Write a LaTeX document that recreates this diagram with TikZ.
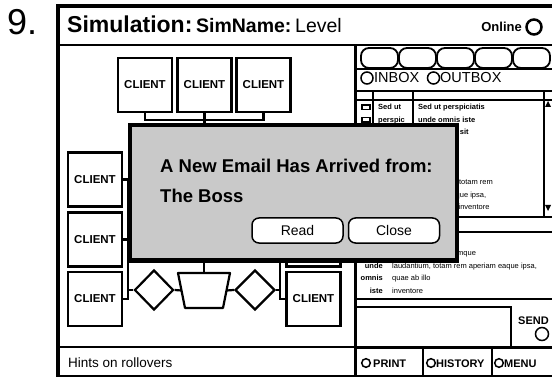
\documentclass[tikz,border=0pt]{standalone}
\usepackage{fontspec}
\setmainfont{Liberation Sans}
\usetikzlibrary{shapes.geometric,positioning}
\newcommand{\fsz}[1]{\fontsize{#1}{#1}\selectfont}
\definecolor{dlggray}{gray}{0.79}
\tikzset{
  client/.style={draw,line width=2.4,fill=white,minimum width=54,minimum height=54,
    inner sep=0,font=\fsz{11.5}\bfseries},
  link/.style={line width=2.2},
  rule/.style={line width=2},
  tabbox/.style={draw,line width=1.8,rounded corners=8,minimum width=37,minimum height=20,inner sep=0},
  radio/.style={draw,circle,line width=1.5,minimum size=12,inner sep=0},
  btn/.style={draw,line width=1.5,fill=white,rounded corners=7,minimum width=91,
    minimum height=25,inner sep=0,font=\fsz{14}},
  txt/.style={anchor=base west,inner sep=0},
  lst/.style={anchor=base west,inner sep=0,font=\fsz{7.5}\bfseries},
  lstr/.style={anchor=base west,inner sep=0,font=\fsz{7.5}},
  lbl/.style={anchor=base east,inner sep=0,font=\fsz{7.5}\bfseries},
}
\begin{document}
\begin{tikzpicture}[x=1pt,y=-1pt]
\useasboundingbox (0,0) rectangle (552,377);
\clip (0,0) rectangle (552,377);

% number and outer frame
\node[txt,font=\fsz{36}] (num) at (7,35) {9.};
\draw[line width=4] (58,6) rectangle (554,376.5);
\draw[line width=2.5] (58,45) -- (554,45);
\draw[line width=3] (355,45) -- (355,377);

% title bar
\node[txt] (title) at (67,33) {{\fsz{23}\bfseries Simulation:} {\fsz{19.5}\bfseries SimName:} {\fsz{19.5}Level}};
\node[anchor=base east,inner sep=0,font=\fsz{13}\bfseries] (online) at (522,32) {Online};
\node[radio,line width=2.5,minimum size=15] (onlinebtn) at (534,27) {};

% right panel: tabs and folders
\foreach \i in {0,...,4}
  \node[tabbox] (tab\i) at (379.5+38*\i,58) {};
\draw[rule] (355,69) -- (554,69);
\node[radio] (inboxbtn) at (367,78) {};
\node[txt,font=\fsz{14.5}] (inbox) at (374,83) {INBOX};
\node[radio] (outboxbtn) at (433.5,78) {};
\node[txt,font=\fsz{14.5}] (outbox) at (440,83) {OUTBOX};
\draw[line width=2.5] (355,91) -- (554,91);
\draw[line width=1.5] (355,100) -- (554,100);
\draw[line width=1.5] (373,91) -- (373,217) (413,91) -- (413,217) (544,91) -- (544,217);
\fill (545,107) -- (551,107) -- (548,101) -- cycle;
\fill (545,205) -- (551,205) -- (548,211) -- cycle;

% message list
\draw[line width=1.2] (362,105) rectangle (370,109.5) (362,117.5) rectangle (370,122);
\node[lst] (from1) at (378,109.7) {Sed ut};
\node[lst] (from2) at (378,122.2) {perspic};
\node[lst] (subj1) at (418,109.7) {Sed ut perspiciatis};
\node[lst] (subj2) at (418,122.2) {unde omnis iste};
\node[lst] (subj3) at (418,134.7) {natus error sit};
\node[lstr] (subj7) at (418,184.7) {laudantium, totam rem};
\node[lstr] (subj8) at (418,197.2) {aperiam eaque ipsa,};
\node[lstr] (subj9) at (418,209.7) {quae ab illo inventore};
\draw[line width=2.5] (355,217) -- (554,217);
\draw[line width=1.5] (355,232) -- (554,232);

% preview
\node[lbl] (pl1) at (383,255.7) {perspiciatis};
\node[lstr] (pv1) at (392,255.7) {accusantium doloremque};
\node[lbl] (pl2) at (383,268.2) {unde};
\node[lstr] (pv2) at (392,268.2) {laudantium, totam rem aperiam eaque ipsa,};
\node[lbl] (pl3) at (383,280.7) {omnis};
\node[lstr] (pv3) at (392,280.7) {quae ab illo};
\node[lbl] (pl4) at (383,293.2) {iste};
\node[lstr] (pv4) at (392,293.2) {inventore};
\draw[rule] (355,299) -- (554,299);

% compose and send
\draw[rule] (355,307) -- (511,307) -- (511,347);
\node[txt,font=\fsz{11}\bfseries] (send) at (518,324) {SEND};
\node[radio,minimum size=13] (sendbtn) at (542,334) {};

% bottom bars
\draw[rule] (58,347) -- (355,347);
\draw[line width=3] (355,347) -- (554,347);
\draw[rule] (423,347) -- (423,377) (492,347) -- (492,377);
\node[txt,font=\fsz{13.5}] (hints) at (68,367) {Hints on rollovers};
\node[radio,minimum size=8.6] (printbtn) at (366,363) {};
\node[txt,font=\fsz{11}\bfseries] (print) at (373,367) {PRINT};
\node[radio,minimum size=8.6] (historybtn) at (431,363) {};
\node[txt,font=\fsz{11}\bfseries] (history) at (436,367) {HISTORY};
\node[radio,minimum size=8.6] (menubtn) at (499,363) {};
\node[txt,font=\fsz{11}\bfseries] (menu) at (504,367) {MENU};

% clients
\node[client] (cT1) at (145,85) {CLIENT};
\node[client] (cT2) at (204.5,85) {CLIENT};
\node[client] (cT3) at (263.5,85) {CLIENT};
\node[client] (cL1) at (95,179.5) {CLIENT};
\node[client] (cL2) at (95,239.5) {CLIENT};
\node[client] (cL3) at (95,299) {CLIENT};
\node[client] (cH) at (313.5,239.5) {};
\node[client] (cR) at (313.5,299) {CLIENT};
\node[draw,diamond,line width=2.2,fill=white,minimum width=39,minimum height=40,inner sep=0] (dL) at (154,290) {};
\node[draw,diamond,line width=2.2,fill=white,minimum width=40,minimum height=40,inner sep=0] (dR) at (255,290) {};
% hub
\draw[line width=2.2,line join=round] (178,273) -- (230,273) -- (223,308) -- (185,308) -- cycle;
\coordinate (tzN) at (204,273);
\coordinate (tzW) at (181.5,290.5);
\coordinate (tzE) at (226.5,290.5);

\coordinate (busT) at (204.5,120);
\coordinate (busL) at (128,299);
\coordinate (busR) at (280,299);
\draw[link] (cT1.south) |- (cT3.south |- busT) -- (cT3.south);
\draw[link] (cT2.south) -- (cT2.south |- busT) -- ++(0,6);
\draw[link] (cL1.east) -| (busL) -- (cL3.east);
\draw[link] (cL2.east) -- (cL2.east -| busL);
\draw[link] (busL |- dL) -- (dL.west);
\draw[link] (dL.east) -- (tzW);
\draw[link] (tzE) -- (dR.west);
\draw[link] (dR.east) -- (dR.east -| busR);
\draw[link] (busR |- cH.west) -- (cH.west);
\draw[link] (busR |- 0,258) -- (busR) -- (cR.west);
\draw[link] (tzN) -- (tzN |- 0,258);

% new mail dialog
\node[draw,line width=4.5,fill=dlggray,minimum width=327,minimum height=135.5,inner sep=0] (mail) at (293.5,192.75) {};
\node[txt,font=\fsz{18.5}\bfseries] (mailtxt) at (160,173) {A New Email Has Arrived from:};
\node[txt,font=\fsz{18.5}\bfseries] (sender) at (160,203) {The Boss};
\node[btn] (bRead) at (297.5,230.5) {Read};
\node[btn] (bClose) at (394,230.5) {Close};
\end{tikzpicture}
\end{document}
